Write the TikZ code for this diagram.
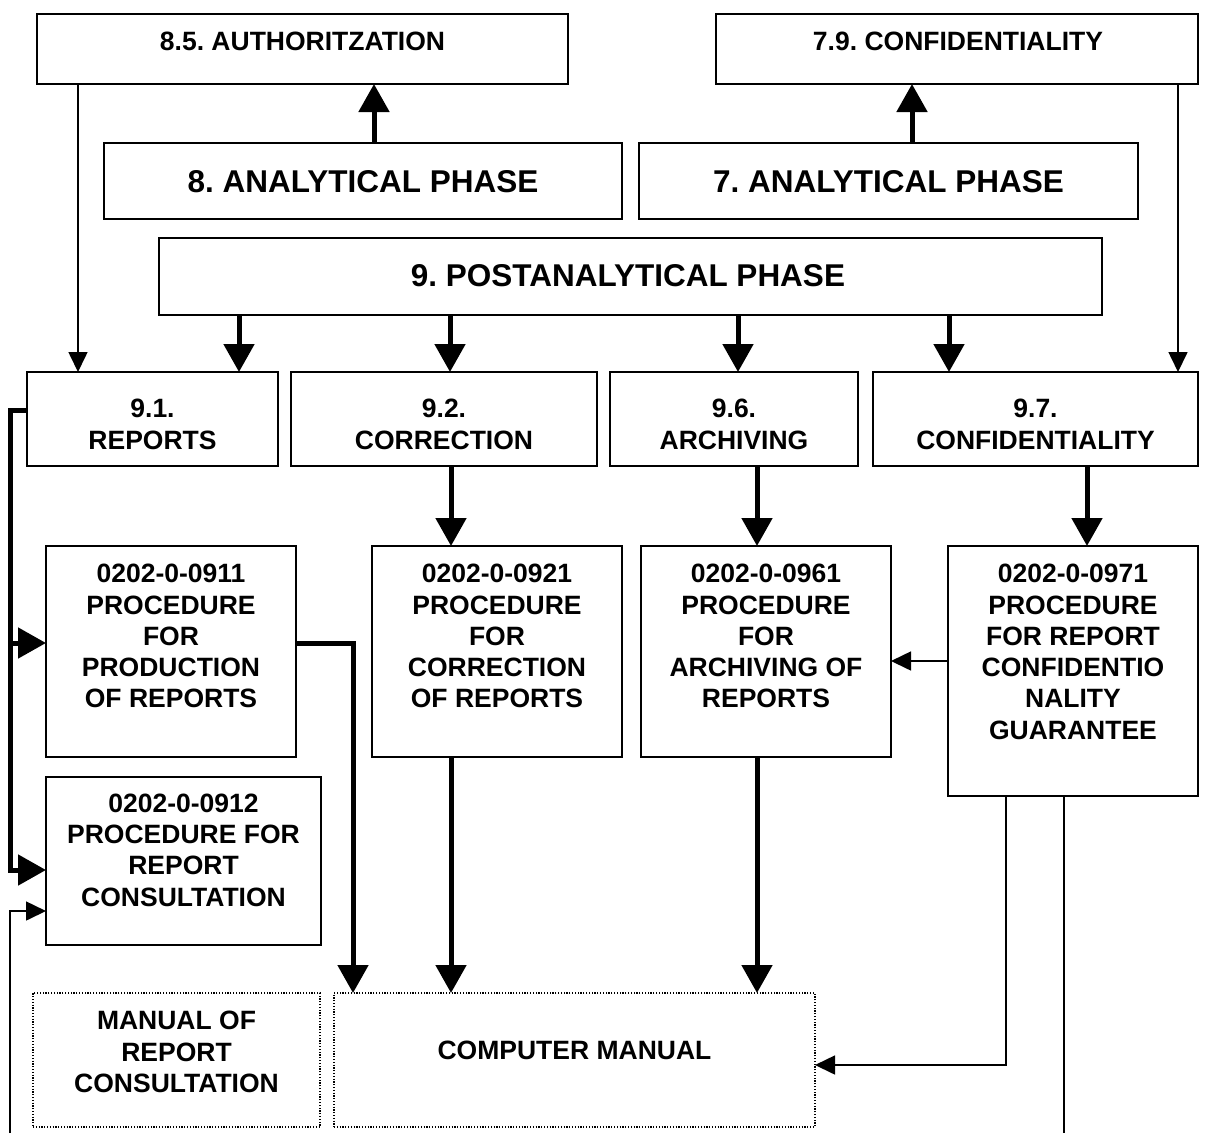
\documentclass[tikz,border=0pt]{standalone}
\usepackage{fontspec}
\setmainfont{Liberation Sans}
\usetikzlibrary{arrows.meta}
\newcommand\placebox[6][boxst]{\node[#1, minimum width={(#5-#3)*1pt}, minimum height={(#6-#4)*1pt}] (#2) at ({(#3+#5)/2},{(#4+#6)/2}) {};}
\frenchspacing
\begin{document}
\frenchspacing
\begin{tikzpicture}[x=1pt,y=-1pt,
  boxst/.style={draw, line width=1.8pt, inner sep=0pt, outer sep=0pt, rectangle},
  dotbox/.style={draw, line width=1.1pt, dash pattern=on 1.2pt off 1.6pt, inner sep=0pt, outer sep=0pt, rectangle},
  txt/.style={anchor=north, inner sep=0pt, align=center, font=\fontsize{26.5pt}{31.3pt}\selectfont\bfseries},
  bigtxt/.style={anchor=north, inner sep=0pt, align=center, font=\fontsize{31.5pt}{36pt}\selectfont\bfseries},
  thk/.style={line width=5pt, -{Triangle[length=28pt,width=30pt]}},
  thkline/.style={line width=5pt},
  thn/.style={line width=1.6pt, -{Triangle[length=20pt,width=19pt]}},
  thnline/.style={line width=1.6pt}]
\useasboundingbox (0,0) rectangle (1212,1133);
% boxes
\placebox{auth}{37}{14}{568}{84}
\placebox{conf}{716}{14}{1198}{84}
\placebox{an8}{104}{143}{622}{219}
\placebox{an7}{639}{143}{1138}{219}
\placebox{post}{159}{238}{1102}{315}
\placebox{r91}{27}{372}{278}{466}
\placebox{r92}{291}{372}{597}{466}
\placebox{r96}{610}{372}{858}{466}
\placebox{r97}{873}{372}{1198}{466}
\placebox{p0911}{46}{546}{296}{757}
\placebox{p0921}{372}{546}{622}{757}
\placebox{p0961}{641}{546}{891}{757}
\placebox{p0971}{948}{546}{1198}{796}
\placebox{p0912}{46}{777}{321}{945}
\placebox[dotbox]{man}{33}{993}{320}{1127}
\placebox[dotbox]{cm}{334}{993}{815}{1127}
% texts
\node[txt] (auth-t) at (302.5,32) {8.5. AUTHORITZATION};
\node[txt] (conf-t) at (958,32) {7.9. CONFIDENTIALITY};
\node[bigtxt] (an8-t) at (363,170) {8. ANALYTICAL PHASE};
\node[bigtxt] (an7-t) at (888.5,170) {7. ANALYTICAL PHASE};
\node[bigtxt] (post-t) at (628,264.5) {9. POSTANALYTICAL PHASE};
\node[txt] (r91-t) at (152.5,399) {9.1.\\REPORTS};
\node[txt] (r92-t) at (444,399) {9.2.\\CORRECTION};
\node[txt] (r96-t) at (734,399) {9.6.\\ARCHIVING};
\node[txt] (r97-t) at (1035.5,399) {9.7.\\CONFIDENTIALITY};
\node[txt] (p0911-t) at (171,564) {0202-0-0911\\PROCEDURE\\FOR\\PRODUCTION\\OF REPORTS};
\node[txt] (p0921-t) at (497,564) {0202-0-0921\\PROCEDURE\\FOR\\CORRECTION\\OF REPORTS};
\node[txt] (p0961-t) at (766,564) {0202-0-0961\\PROCEDURE\\FOR\\ARCHIVING OF\\REPORTS};
\node[txt] (p0971-t) at (1073,564) {0202-0-0971\\PROCEDURE\\FOR REPORT\\CONFIDENTIO\\NALITY\\GUARANTEE};
\node[txt] (p0912-t) at (183.5,793.5) {0202-0-0912\\PROCEDURE FOR\\REPORT\\CONSULTATION};
\node[txt] (man-t) at (176.5,1011) {MANUAL OF\\REPORT\\CONSULTATION};
\node[txt] (cm-t) at (574.5,1040.5) {COMPUTER MANUAL};
% free ends
\coordinate (rail) at (10,0);
\coordinate (botL) at (10,1133);
\coordinate (botR) at (1064,1133);
% connectors: upward
\draw[thk] (an8.north -| 374,0) -- (auth.south -| 374,0);
\draw[thk] (an7.north -| 912,0) -- (conf.south -| 912,0);
% thin from top boxes
\draw[thn] (auth.south -| 78,0) -- (r91.north -| 78,0);
\draw[thn] (conf.south -| 1178,0) -- (r97.north -| 1178,0);
% post to 9.x
\draw[thk] (post.south -| 239,0) -- (r91.north -| 239,0);
\draw[thk] (post.south -| 450,0) -- (r92.north -| 450,0);
\draw[thk] (post.south -| 738,0) -- (r96.north -| 738,0);
\draw[thk] (post.south -| 949,0) -- (r97.north -| 949,0);
% 9.x to procedures
\draw[thk] (r92.south -| 451,0) -- (p0921.north -| 451,0);
\draw[thk] (r96.south -| 757,0) -- (p0961.north -| 757,0);
\draw[thk] (r97.south -| 1087,0) -- (p0971.north -| 1087,0);
% left rail from 9.1
\draw[thk] ([yshift=9pt]r91.west) -| ([yshift=-9pt]p0912.west -| rail) -- ([yshift=-9pt]p0912.west);
\draw[thk] ([yshift=8.5pt]p0911.west -| rail) -- ([yshift=8.5pt]p0911.west);
\draw[thn] (botL) |- ([yshift=-50pt]p0912.west);
% procedures to computer manual
\draw[thk] ([yshift=8.5pt]p0911.east) -| (cm.north -| 353,0);
\draw[thk] (p0921.south -| 451,0) -- (cm.north -| 451,0);
\draw[thk] (p0961.south -| 757,0) -- (cm.north -| 757,0);
\draw[thn] ([yshift=10pt]p0971.west) -- ([yshift=10pt]p0971.west -| p0961.east);
\draw[thn] (p0971.south -| 1006,0) |- ([yshift=-5pt]cm.east);
\draw[thnline] (p0971.south -| 1064,0) -- (botR);
\end{tikzpicture}
\end{document}
